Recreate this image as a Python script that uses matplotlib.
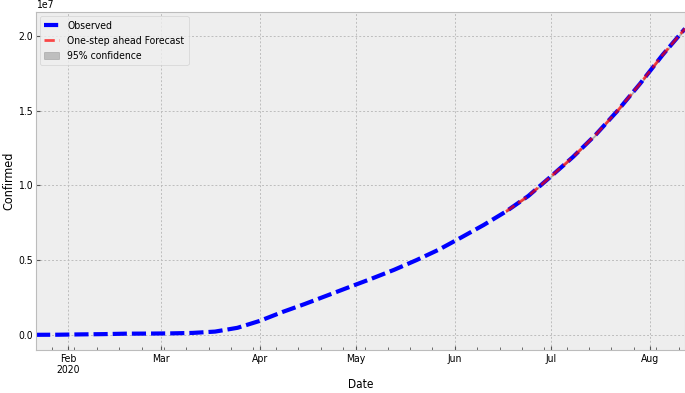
import matplotlib
matplotlib.use("Agg")
import matplotlib.pyplot as plt
import matplotlib.dates as mdates
import matplotlib.patches as mpatches
import numpy as np
import pandas as pd

plt.style.use("bmh")
plt.rcParams["font.family"] = ["DejaVu Sans"]
plt.rcParams["font.stretch"] = "condensed"

# Weekly observed cumulative confirmed cases
dates = pd.date_range("2020-01-22", "2020-08-12", freq="7D")
observed = [555, 6165, 28276, 45221, 75641, 81397, 95120, 126214, 214910, 467653,
            932605, 1518719, 2056055, 2623960, 3193886, 3757990, 4347018, 4996472,
            5697334, 6511258, 7343000, 8248000, 9289000, 10582000, 11906000,
            13368000, 15012000, 16813000, 18726000, 20482000]

fc_dates = pd.date_range("2020-06-17", "2020-08-12", freq="7D")
forecast = [8248000, 9289000, 10582000, 11906000, 13368000, 15012000, 16813000,
            18726000, 20482000]
ci_lower = [8200000, 9240000, 10530000, 11850000, 13310000, 14950000, 16750000,
            18660000, 20410000]
ci_upper = [8296000, 9338000, 10634000, 11962000, 13426000, 15074000, 16876000,
            18792000, 20554000]

fig = plt.figure(figsize=(6.85, 3.93), dpi=100)
ax = fig.add_axes([0.0526, 0.109, 0.9474, 0.86])

ax.plot(dates, observed, color="blue", lw=3.0, ls=(0, (3.4, 1.2)), label="Observed")
ax.plot(fc_dates, forecast, color="red", lw=2.0, ls=(0, (3.7, 1.6)), alpha=0.7,
        label="One-step ahead Forecast")
ax.fill_between(fc_dates, ci_lower, ci_upper, color="k", alpha=0.2)

ax.set_xlim(dates[0], dates[-1])

ax.xaxis.set_major_locator(mdates.MonthLocator())
def fmt(x, pos=None):
    d = mdates.num2date(x)
    return d.strftime("%b\n%Y") if d.month == 2 else d.strftime("%b")
ax.xaxis.set_major_formatter(plt.FuncFormatter(fmt))
ax.xaxis.set_minor_locator(mdates.WeekdayLocator(byweekday=mdates.MO))
ax.xaxis.set_minor_formatter(plt.NullFormatter())

ax.grid(True, which="major", color="#bdbdbd", ls=(0, (2, 2)), lw=0.7)
ax.grid(False, which="minor")
ax.tick_params(axis="both", which="major", labelsize=7.5, length=3, color="#555555", pad=2.5)
ax.tick_params(axis="x", which="minor", length=2, color="#555555")
ax.yaxis.get_offset_text().set_fontsize(7.5)

ax.set_xlabel("Date", fontsize=8.5, labelpad=2)
ax.set_ylabel("Confirmed", fontsize=9, labelpad=2)

handles, labels = ax.get_legend_handles_labels()
handles.append(mpatches.Patch(color="k", alpha=0.2))
labels.append("95% confidence")
ax.legend(handles, labels, loc="upper left", fontsize=7.5, handlelength=1.4,
          borderaxespad=0.4)

fig.savefig("out.png", dpi=100)
